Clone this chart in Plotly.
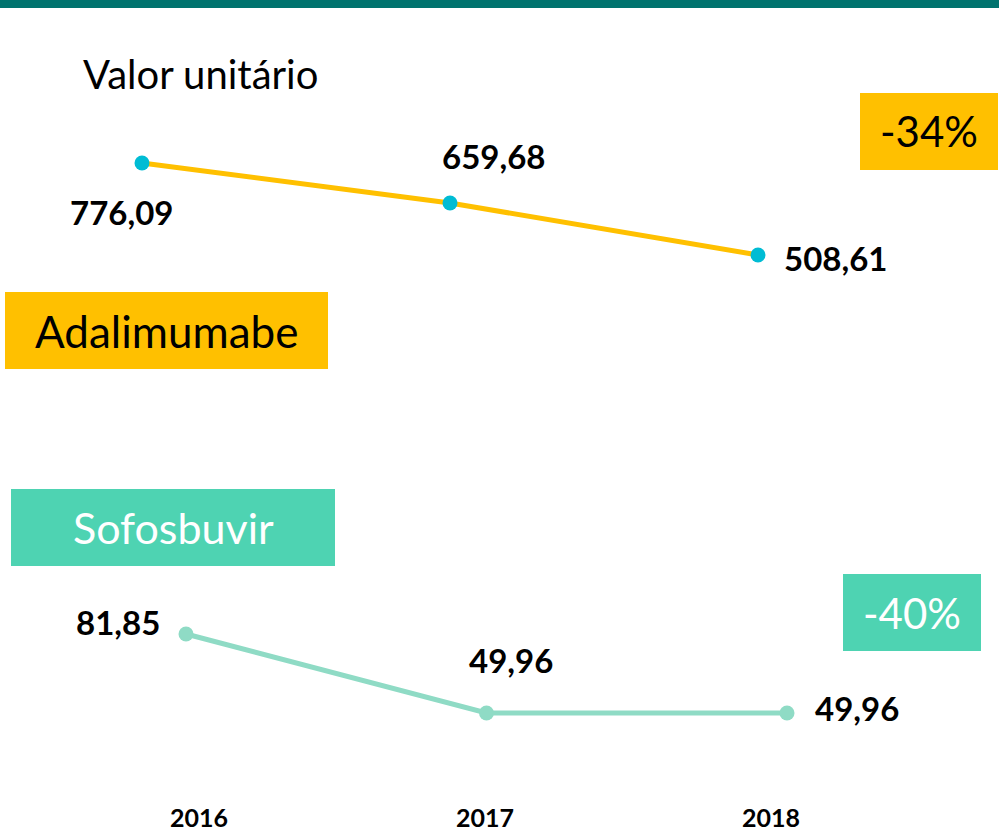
"""
Valor unitário: Adalimumabe e Sofosbuvir (2016-2018)
"""

import plotly.graph_objects as go

# Dados
anos = [2016, 2017, 2018]
adalimumabe = [776.09, 659.68, 508.61]
sofosbuvir = [81.85, 49.96, 49.96]
rotulos_anos = ['2016', '2017', '2018']
variacao_adalimumabe = '-34%'
variacao_sofosbuvir = '-40%'

W, H = 999, 838
FONT = 'Lato'

COLORS = {
    'band': '#00736E',
    'yellow': '#FFC000',
    'cyan': '#00BCD4',
    'teal': '#4ED3B2',
    'teal_line': '#8FDBC5',
}


def fmt(v):
    return f'{v:.2f}'.replace('.', ',')


def px_x(p):
    return p / W


def px_y(p):
    return 1 - p / H


fig = go.Figure()

# Adalimumabe
fig.add_trace(go.Scatter(
    x=anos, y=adalimumabe, mode='lines+markers',
    line=dict(color=COLORS['yellow'], width=5),
    marker=dict(color=COLORS['cyan'], size=15),
    xaxis='x', yaxis='y', showlegend=False, hoverinfo='skip'
))

# Sofosbuvir
fig.add_trace(go.Scatter(
    x=anos, y=sofosbuvir, mode='lines+markers',
    line=dict(color=COLORS['teal_line'], width=5),
    marker=dict(color=COLORS['teal_line'], size=15),
    xaxis='x2', yaxis='y2', showlegend=False, hoverinfo='skip'
))

# Eixo com os anos (invisível, só para os rótulos)
fig.add_trace(go.Scatter(
    x=anos, y=[0, 0, 0], mode='markers', marker=dict(opacity=0),
    xaxis='x3', yaxis='y3', showlegend=False, hoverinfo='skip'
))

hidden = dict(visible=False, showgrid=False, zeroline=False, fixedrange=True)

fig.update_layout(
    width=W, height=H,
    margin=dict(l=0, r=0, t=0, b=0),
    paper_bgcolor='white', plot_bgcolor='white',
    font=dict(family=FONT, color='black'),
    xaxis=dict(domain=[0.01882, 0.8821], range=[2015.6, 2018.4], anchor='y', **hidden),
    yaxis=dict(domain=[0.6840, 0.8235], range=[480, 820], anchor='x', **hidden),
    xaxis2=dict(domain=[0.06587, 0.9081], range=[2015.6, 2018.4], anchor='y2', **hidden),
    yaxis2=dict(domain=[0.1197, 0.2675], range=[40, 90], anchor='x2', **hidden),
    xaxis3=dict(domain=[0.08468, 0.8863], range=[2015.6, 2018.4], anchor='y3',
                tickvals=anos, ticktext=rotulos_anos, showgrid=False, zeroline=False,
                showline=False, ticks='', fixedrange=True,
                tickfont=dict(family=FONT, size=25, color='black', weight='bold')),
    yaxis3=dict(domain=[px_y(801), px_y(790)], anchor='x3', **hidden),
)

# Faixa superior
fig.add_shape(type='rect', xref='paper', yref='paper',
              x0=0, x1=1, y0=px_y(8), y1=1,
              fillcolor=COLORS['band'], line_width=0, layer='below')

# Caixas de rótulo
boxes = [
    (5, 328, 292, 369, COLORS['yellow'], 'Adalimumabe', 'black', 44),
    (860, 998, 93, 170, COLORS['yellow'], variacao_adalimumabe, 'black', 42),
    (11, 335, 489, 566, COLORS['teal'], 'Sofosbuvir', 'white', 43),
    (843, 981, 574, 651, COLORS['teal'], variacao_sofosbuvir, 'white', 42),
]
for x0, x1, y0, y1, color, text, tcolor, size in boxes:
    fig.add_shape(type='rect', xref='paper', yref='paper',
                  x0=px_x(x0), x1=px_x(x1), y0=px_y(y1), y1=px_y(y0),
                  fillcolor=color, line_width=0, layer='below')
    fig.add_annotation(xref='paper', yref='paper',
                       x=px_x((x0 + x1) / 2), y=px_y((y0 + y1) / 2),
                       text=text, showarrow=False,
                       font=dict(family=FONT, size=size, color=tcolor),
                       xanchor='center', yanchor='middle')

# Título
fig.add_annotation(xref='paper', yref='paper', x=px_x(81), y=px_y(74),
                   text='Valor unitário', showarrow=False,
                   font=dict(family=FONT, size=40, color='black'),
                   xanchor='left', yanchor='middle')

# Rótulos dos valores
label_font = dict(family=FONT, size=33, color='black', weight='bold')
offsets_a = [(-21, -49, 'center'), (43, 47, 'center'), (24, -3, 'left')]
for ano, v, (dx, dy, anchor) in zip(anos, adalimumabe, offsets_a):
    fig.add_annotation(x=ano, y=v, xref='x', yref='y', text=fmt(v),
                       showarrow=False, xshift=dx, yshift=dy,
                       xanchor=anchor, yanchor='middle', font=label_font)

offsets_s = [(-68, 12, 'center'), (25, 53, 'center'), (26, 5, 'left')]
for ano, v, (dx, dy, anchor) in zip(anos, sofosbuvir, offsets_s):
    fig.add_annotation(x=ano, y=v, xref='x2', yref='y2', text=fmt(v),
                       showarrow=False, xshift=dx, yshift=dy,
                       xanchor=anchor, yanchor='middle', font=label_font)

fig.write_html("out.html", config={'displayModeBar': False},
               post_script="document.body.style.margin='0';")
